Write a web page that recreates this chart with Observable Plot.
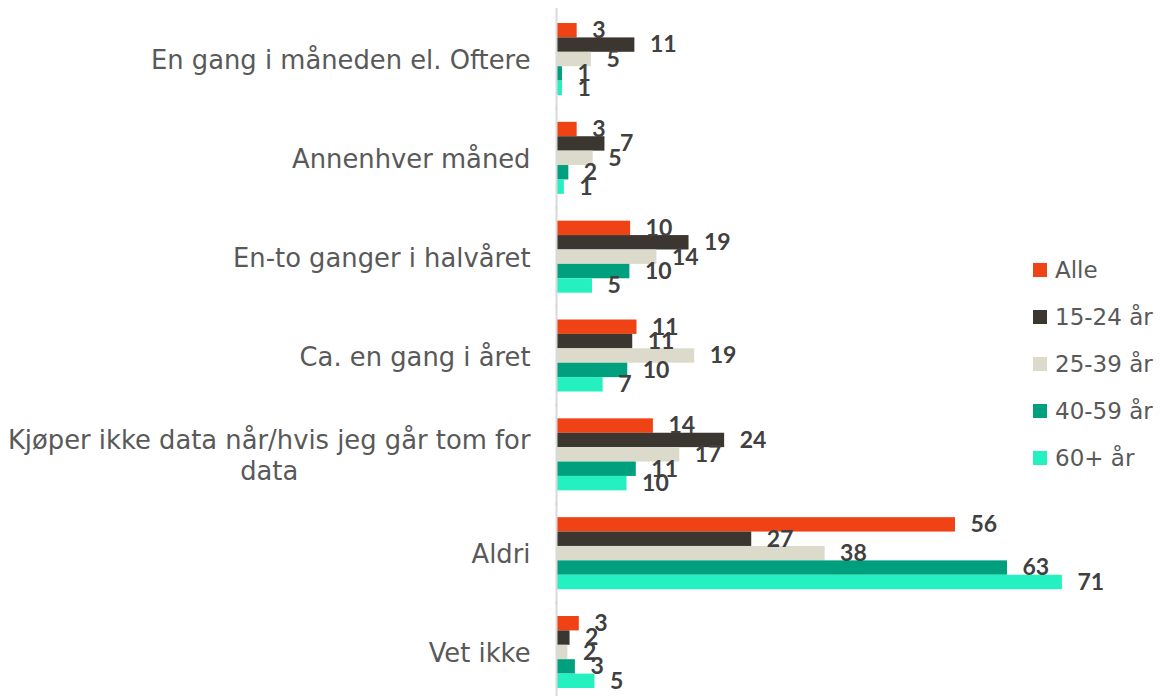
<!DOCTYPE html>
<html>
<head>
<meta charset="utf-8">
<script src="https://cdn.jsdelivr.net/npm/d3@7"></script>
<script src="https://cdn.jsdelivr.net/npm/@observablehq/plot@0.6"></script>
<style>
  html, body { margin: 0; padding: 0; background: #fff; }
  #wrap { position: relative; width: 1160px; height: 696px; overflow: hidden; }
  #legend { position: absolute; left: 1033px; top: 246px; font-family: "DejaVu Sans", sans-serif; font-size: 23px; color: #595959; }
  #legend .item { display: flex; align-items: center; height: 47px; white-space: nowrap; }
  #legend .sw { width: 14px; height: 14px; margin-right: 8px; flex: none; }
</style>
</head>
<body>
<div id="wrap"><div id="chart"></div><div id="legend"></div></div>
<script>
const categories = [
  "En gang i måneden el. Oftere",
  "Annenhver måned",
  "En-to ganger i halvåret",
  "Ca. en gang i året",
  "Kjøper ikke data når/hvis jeg går tom for\ndata",
  "Aldri",
  "Vet ikke"
];
const series = ["Alle", "15-24 år", "25-39 år", "40-59 år", "60+ år"];
const alle    = [2.9, 2.9, 10.4, 11.3, 13.6, 56.0, 3.2];
const age1524 = [11.0, 6.8, 18.6, 10.7, 23.6, 27.4, 1.9];
const age2539 = [4.9, 5.15, 14.1, 19.4, 17.3, 37.7, 1.6];
const age4059 = [0.84, 1.73, 10.3, 10.0, 11.2, 63.3, 2.65];
const age60   = [0.84, 1.1, 5.05, 6.55, 9.9, 71.0, 5.4];
const colors  = ["#EF4316", "#3B3630", "#DCDACB", "#00A07E", "#24F0C0"];

const seriesValues = [alle, age1524, age2539, age4059, age60];
const data = [];
categories.forEach((c, i) => {
  series.forEach((s, j) => data.push({category: c, series: s, value: seriesValues[j][i]}));
});

const labelFont = '"DejaVu Sans", sans-serif';
const labelSize = 25.8;
const ctx = document.createElement("canvas").getContext("2d");
ctx.font = `${labelSize}px ${labelFont}`;
const textWidth = (t) => Math.max(...t.split("\n").map(l => ctx.measureText(l).width));
const gap = 26;

const catLabels = categories.map(c => Plot.text([c], {
  fy: d => d,
  frameAnchor: "left",
  text: d => d,
  textAnchor: "middle",
  lineAnchor: "middle",
  lineHeight: 1.17,
  dx: -(gap + textWidth(c) / 2),
  fill: "#595959",
  fontSize: labelSize,
  fontFamily: labelFont
}));

const chart = Plot.plot({
  width: 1160,
  height: 696,
  marginLeft: 556,
  marginRight: 34,
  marginTop: 23,
  marginBottom: 8,
  x: {domain: [0, 80], axis: null},
  y: {domain: series, padding: 0, round: false, axis: null},
  fy: {domain: categories, paddingInner: 0.2715, paddingOuter: 0, round: false, axis: null},
  color: {domain: series, range: colors},
  marks: [
    Plot.barX(data, {fy: "category", y: "series", x: "value", fill: "series"}),
    Plot.ruleX([0], {stroke: "#D9D9D9", strokeWidth: 2, insetTop: -15, insetBottom: -15}),
    Plot.text(data, {
      fy: "category", y: "series", x: "value",
      text: d => String(Math.round(d.value)),
      textAnchor: "start", dx: 15,
      fill: "#404040", fontWeight: "bold", fontSize: 23, fontFamily: "Lato, sans-serif"
    }),
    ...catLabels
  ]
});
document.getElementById("chart").appendChild(chart);

const legend = document.getElementById("legend");
series.forEach((s, j) => {
  const item = document.createElement("div");
  item.className = "item";
  const sw = document.createElement("span");
  sw.className = "sw";
  sw.style.background = colors[j];
  const tx = document.createElement("span");
  tx.textContent = s;
  item.appendChild(sw);
  item.appendChild(tx);
  legend.appendChild(item);
});
</script>
</body>
</html>
